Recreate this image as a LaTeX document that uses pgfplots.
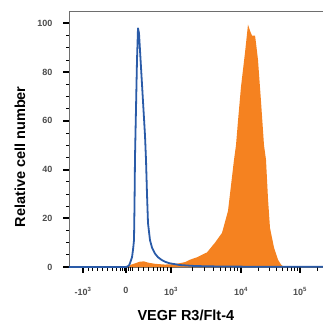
\documentclass[border=0pt]{standalone}
\usepackage{pgfplots}
\pgfplotsset{compat=1.18}
\usepackage{fontspec}
\setmainfont{Liberation Sans}
\definecolor{isoblue}{HTML}{2A5BA8}
\definecolor{fillorange}{HTML}{F58220}
\definecolor{axgray}{HTML}{6E6E6E}
\begin{document}
\begin{tikzpicture}
\begin{axis}[
  at={(0,0)}, anchor=south west,
  width=254pt, height=256pt, scale only axis,
  xmin=69, xmax=323, ymin=0, ymax=105.1,
  clip mode=individual,
  axis line style={draw=none},
  xtick pos=bottom, ytick pos=left,
  tick align=outside,
  xtick={83,126,171,241,300},
  xticklabels={-10\textsuperscript{3},0,10\textsuperscript{3},10\textsuperscript{4},10\textsuperscript{5}},
  ytick={0,20,40,60,80,100},
  yticklabels={0,20,40,60,80,100},
  major tick length=6pt,
  xticklabel style={font=\fontsize{9}{10}\selectfont\bfseries, text=black!70, yshift=-11pt},
  yticklabel style={font=\fontsize{9}{10}\selectfont\bfseries, text=black!70, xshift=-7pt},
  xlabel={VEGF R3/Flt-4},
  ylabel={Relative cell number},
  xlabel style={at={(rel axis cs:0.46,-0.19)}, anchor=center, font=\fontsize{14.5}{16}\selectfont\bfseries},
  ylabel style={at={(rel axis cs:-0.193,0.43)}, anchor=center, font=\fontsize{14.5}{16}\selectfont\bfseries},
]
\draw[axgray, line width=0.8pt] (rel axis cs:0,0) -- (rel axis cs:0,1) -- (rel axis cs:1,1);
\draw[axgray, line width=0.8pt] (rel axis cs:0,0) -- (rel axis cs:1,0);
\pgfplotsinvokeforeach{83,126,171,241,300}{\draw[black, line width=2pt] (axis cs:#1,0) -- (axis cs:#1,-2.46);}
\pgfplotsinvokeforeach{88,92,97,102,107,112,116,120,122,124,128,130,132,138,143,148,153,157,160,163,167,192,204.4,213,220,225.5,230,234,237.8,258.8,269,276.5,282,287,290.9,294.3,297.3,317.8}{\draw[black, line width=0.8pt] (axis cs:#1,0) -- (axis cs:#1,-1.44);}
\pgfplotsinvokeforeach{0,20,40,60,80,100}{\draw[black, line width=2pt] (axis cs:69,#1) -- (axis cs:63,#1);}
\pgfplotsinvokeforeach{5,10,15,25,30,35,45,50,55,65,70,75,85,90,95}{\draw[black, line width=0.8pt] (axis cs:69,#1) -- (axis cs:66,#1);}
\addplot[fill=fillorange, draw=none] coordinates {
(126,0) (130,0.8) (135,1.5) (140,2.2) (144,2.3) (148,1.8) (155,1.3) (165,1.0) (175,1.2) (180,1.6) (185,2) (190,3) (197,4) (207,6) (215,10) (222,14) (228,23) (234,44) (236,50) (238,60) (241,74) (245,88) (248,99.5) (250,97) (252,95) (255,95) (256,92) (258,85) (261,68) (264,50) (266,44) (268,28) (270,16) (274,8) (278,3) (281,1) (283,0.3) (286,0)
} \closedcycle;
\addplot[isoblue, line width=1.8pt, line join=round, clip=false] coordinates {
(69,0) (125,0) (127,0.1) (129,0.6) (130,1.6) (132,4) (133,7) (134,11) (134.5,25) (135,45) (136,65) (137,85) (138,98) (139,96) (141,82) (143,68) (145,54) (146,44) (147,30) (148,18) (150,11) (152,8) (155,5.5) (158,4) (162,2.8) (166,2) (170,1.5) (180,0.8) (195,0.4) (220,0.2) (260,0.1) (323,0.1)
};
\end{axis}
\pgfresetboundingbox
\path[use as bounding box] (-69pt,-59pt) rectangle (254pt,267pt);
\end{tikzpicture}
\end{document}
